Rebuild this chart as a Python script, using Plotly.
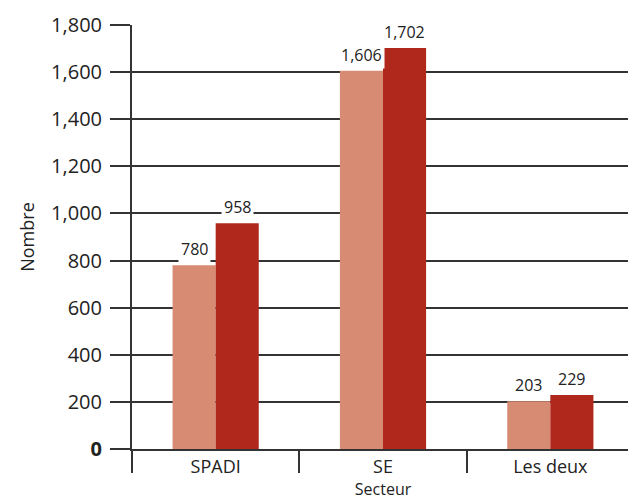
import plotly.graph_objects as go

categories = ["SPADI", "SE", "Les deux"]
series_a = [780, 1606, 203]
series_b = [958, 1702, 229]
tick_vals = [0, 200, 400, 600, 800, 1000, 1200, 1400, 1600, 1800]
tick_text = ["<b>0</b>", "200", "400", "600", "800", "1,000", "1,200", "1,400", "1,600", "1,800"]

light = "#D78B73"
dark = "#B0281C"
ink = "#333333"
font = "Open Sans"

fig = go.Figure()
fig.add_trace(go.Bar(x=categories, y=series_a, marker=dict(color=light, line=dict(width=0)), name="a"))
fig.add_trace(go.Bar(x=categories, y=series_b, marker=dict(color=dark, line=dict(width=0)), name="b"))

half = (1 - 0.485) / 4
for i, (va, vb) in enumerate(zip(series_a, series_b)):
    for off, v in ((-half, va), (half, vb)):
        fig.add_annotation(x=i + off, y=v, xref="x", yref="y", text=f"{v:,}",
                           showarrow=False, yanchor="bottom", yshift=2,
                           bgcolor="white", borderpad=2,
                           font=dict(family=font, size=16, color="#222"))

fig.update_layout(
    width=636, height=502,
    margin=dict(l=124, r=10, t=17, b=61),
    plot_bgcolor="white", paper_bgcolor="white",
    barmode="group", bargap=0.485, bargroupgap=0,
    showlegend=False,
    font=dict(family=font, color="#222"),
)
fig.update_xaxes(
    type="category", tickson="boundaries", ticks="outside", ticklen=22,
    tickcolor=ink, tickwidth=2, showline=True, linecolor=ink, linewidth=2,
    showgrid=False, tickfont=dict(size=18, family=font, color="#222"),
    ticklabelstandoff=0, automargin=False,
    title=dict(text="Secteur", font=dict(size=16, family=font, color="#222"), standoff=5),
)
fig.update_yaxes(
    range=[0, 1800], tickvals=tick_vals, ticktext=tick_text,
    ticks="outside", ticklen=20, tickcolor=ink, tickwidth=1.5,
    showgrid=True, gridcolor=ink, gridwidth=1.5,
    showline=True, mirror=True, linecolor=ink, linewidth=2,
    zeroline=False, automargin=False,
    tickfont=dict(size=20, family=font, color="#222"),
    ticklabelstandoff=4,
    title=dict(text="Nombre", font=dict(size=18, family=font, color="#222"), standoff=12),
)

fig.write_html("out.html")
